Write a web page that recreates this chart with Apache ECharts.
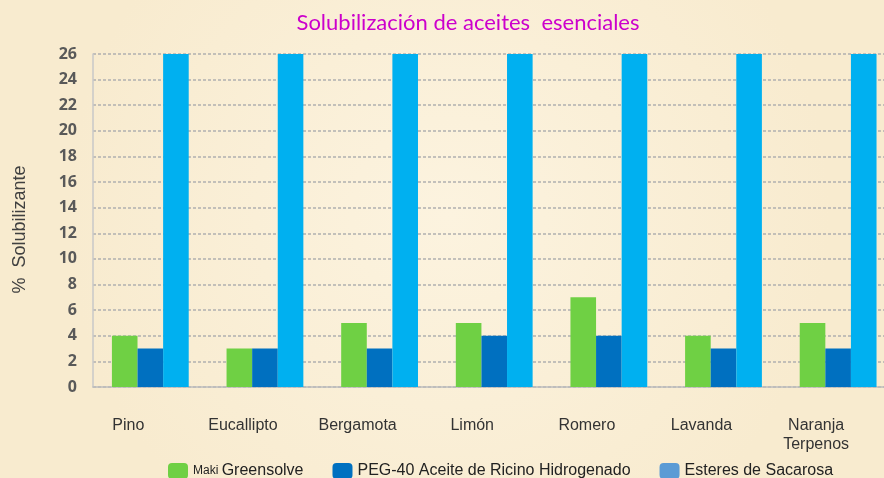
<!DOCTYPE html>
<html>
<head>
<meta charset="utf-8">
<script src="https://cdn.jsdelivr.net/npm/echarts@6/dist/echarts.min.js"></script>
<style>
    html, body {margin: 0; padding: 0; background: #faf0d8; overflow: hidden;}
    #echartdiv {width: 896px; height: 478px;}
</style>
</head>
<body>
<div id="echartdiv"></div>
<script>
// datos
var pName = ["Pino", "Eucallipto", "Bergamota", "Limón", "Romero", "Lavanda", "Naranja\nTerpenos"];
var pMaki = [4, 3, 5, 5, 7, 4, 5];
var pPeg = [3, 3, 3, 4, 4, 3, 3];
var pEsteres = [26, 26, 26, 26, 26, 26, 26];
var pSeries = ["Maki Greensolve", "PEG-40 Aceite de Ricino Hidrogenado", "Esteres de Sacarosa"];

var dom = document.getElementById("echartdiv");
var myChart = echarts.init(dom);

var option = {
    backgroundColor: {
        type: 'radial', x: 0.5, y: 0.45, r: 0.8,
        colorStops: [{offset: 0, color: '#fcf3df'}, {offset: 1, color: '#f8ebcf'}]
    },
    animation: false,
    title: {
        text: 'Solubilización de aceites  esenciales',
        left: 463,
        textAlign: 'center',
        top: 7,
        textStyle: {color: '#cc00cc', fontSize: 22, fontWeight: 'normal', fontFamily: 'Lato'}
    },
    legend: {
        left: 163,
        top: 458,
        itemWidth: 20,
        itemHeight: 16,
        itemGap: 29,
        icon: 'roundRect',
        data: [
            {name: pSeries[0]},
            {name: pSeries[1]},
            {name: pSeries[2], itemStyle: {color: '#5b9bd5'}}
        ],
        formatter: function (name) {
            if (name == pSeries[0]) {
                return '{s|Maki }' + 'Greensolve';
            }
            return name;
        },
        textStyle: {
            color: '#222', fontSize: 16, fontFamily: 'Liberation Sans',
            rich: {s: {fontSize: 12, color: '#222', fontFamily: 'Liberation Sans'}}
        }
    },
    grid: {
        left: 93,
        right: 0,
        top: 54,
        bottom: 91
    },
    xAxis: [
        {
            type: 'category',
            data: pName,
            axisTick: {show: false},
            axisLine: {lineStyle: {color: '#bdbdbd', width: 1.5}},
            axisLabel: {
                color: '#333', fontSize: 16, fontFamily: 'Liberation Sans',
                margin: 29, lineHeight: 19, padding: [0, 44, 0, 0], interval: 0
            }
        }
    ],
    yAxis: [
        {
            type: 'value',
            min: 0,
            max: 26,
            interval: 2,
            name: '%  Solubilizante',
            nameLocation: 'middle',
            nameGap: 64,
            nameTextStyle: {color: '#404040', fontSize: 18, fontFamily: 'Liberation Sans', padding: [0, 18, 0, 0]},
            axisLine: {show: true, lineStyle: {color: '#c8c8c8', width: 1.5}},
            axisTick: {show: false},
            axisLabel: {color: '#595959', fontSize: 16, fontWeight: 'bold', fontFamily: 'Open Sans', margin: 16},
            splitLine: {lineStyle: {color: '#b0b0b0', type: [3, 2], width: 1.5}}
        }
    ],
    series: [
        {
            name: pSeries[0], type: 'bar', data: pMaki, barGap: '0%', barCategoryGap: '33%',
            itemStyle: {color: '#6fd044'}
        },
        {
            name: pSeries[1], type: 'bar', data: pPeg, barGap: '0%', barCategoryGap: '33%',
            itemStyle: {color: '#0070c0'}
        },
        {
            name: pSeries[2], type: 'bar', data: pEsteres, barGap: '0%', barCategoryGap: '33%',
            itemStyle: {color: '#00b0f0'}
        }
    ]
};

myChart.setOption(option);
</script>
</body>
</html>
